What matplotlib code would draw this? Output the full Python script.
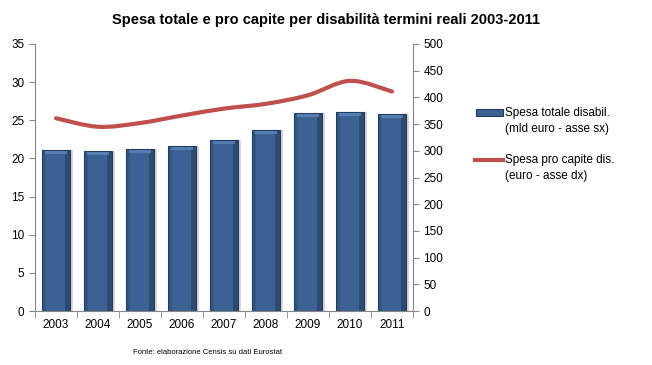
import numpy as np
import matplotlib
matplotlib.use('Agg')
import matplotlib.pyplot as plt
from matplotlib.path import Path
from matplotlib.patches import PathPatch, Rectangle
from matplotlib.lines import Line2D

# Dati
anni = ['2003', '2004', '2005', '2006', '2007', '2008', '2009', '2010', '2011']
spesa_totale = [21.1, 20.95, 21.2, 21.6, 22.4, 23.7, 25.95, 26.1, 25.8]   # mld euro
pro_capite = [361, 345, 352, 366, 379, 388, 404, 431, 411]                  # euro

plt.rcParams['font.family'] = ['Liberation Sans', 'DejaVu Sans']

W, H = 652, 365
fig = plt.figure(figsize=(W / 100, H / 100), dpi=100)
ax = fig.add_axes([35/W, 54/H, 378/W, 267/H])
ax2 = ax.twinx()

x = np.arange(len(anni))
top = np.array(spesa_totale)

# Ombra + barre con effetto smussato
ax.bar(x + 0.07, spesa_totale, width=0.66, color='#7f7f7f', alpha=0.3, zorder=1)
ax.bar(x, spesa_totale, width=0.66, color='#3B6293', edgecolor='#22395A', linewidth=0.8, zorder=2)
ax.bar(x + 0.27, spesa_totale, width=0.12, color='#22395A', alpha=0.55, zorder=3)
ax.bar(x - 0.28, spesa_totale, width=0.08, color='#2C4A73', alpha=0.5, zorder=3)
ax.bar(x, 0.45, bottom=top - 0.55, width=0.52, color='#5F86BA', alpha=0.8, zorder=4)

ax.set_ylim(0, 35)
ax.set_xlim(-0.5, len(anni) - 0.5)
ax.set_yticks(range(0, 36, 5))
ax.set_xticks(x)
ax.set_xticklabels(anni)
ax.set_xticks(np.arange(-0.5, len(anni), 1), minor=True)
ax.tick_params(axis='x', which='major', length=0, labelsize=8.5, pad=6)
ax.tick_params(axis='x', which='minor', length=5, color='#868686')
ax.tick_params(axis='y', length=4, color='#868686', labelsize=8.5)

# Linea smussata (Bezier stile Excel)
xs = np.array(x, dtype=float)
ys = np.array(pro_capite, dtype=float)
verts = [(xs[0], ys[0])]
codes = [Path.MOVETO]
for i in range(len(xs) - 1):
    p0 = (xs[i - 1], ys[i - 1]) if i > 0 else (xs[i], ys[i])
    p1 = (xs[i], ys[i])
    p2 = (xs[i + 1], ys[i + 1])
    p3 = (xs[i + 2], ys[i + 2]) if i + 2 < len(xs) else p2
    c1 = (p1[0] + (p2[0] - p0[0]) / 6, p1[1] + (p2[1] - p0[1]) / 6)
    c2 = (p2[0] - (p3[0] - p1[0]) / 6, p2[1] - (p3[1] - p1[1]) / 6)
    verts += [c1, c2, p2]
    codes += [Path.CURVE4] * 3
ax2.add_patch(PathPatch(Path(verts, codes), fill=False, edgecolor='#C0504D',
                        linewidth=3, capstyle='round', zorder=5))
ax2.set_ylim(0, 500)
ax2.set_yticks(range(0, 501, 50))
ax2.tick_params(axis='y', length=4, color='#868686', labelsize=8.5)

for a in (ax, ax2):
    a.spines['top'].set_visible(False)
    for s in ('left', 'right', 'bottom'):
        a.spines[s].set_color('#868686')
ax.spines['right'].set_visible(False)
ax2.spines['left'].set_visible(False)
ax2.spines['bottom'].set_visible(False)

fig.text(0.5, 0.945, 'Spesa totale e pro capite per disabilità termini reali 2003-2011',
         ha='center', va='center', fontsize=10.5, fontweight='bold')
fig.text(133/W, 1 - 352/H, 'Fonte: elaborazione Censis su dati Eurostat',
         ha='left', va='center', fontsize=5.5)

# Legenda disegnata a mano
fig.add_artist(Rectangle((476/W, 1 - 116/H), 27/W, 7/H, transform=fig.transFigure,
                         facecolor='#3B6293', edgecolor='#22395A', linewidth=0.8))
fig.add_artist(Line2D([475/W, 503/W], [1 - 160/H, 1 - 160/H], transform=fig.transFigure,
                      color='#C0504D', linewidth=3))
leg_testi = [('Spesa totale disabil.', 113), ('(mld euro - asse sx)', 129),
             ('Spesa pro capite dis.', 160), ('(euro - asse dx)', 176)]
for t, yy in leg_testi:
    fig.text(505/W, 1 - yy/H, t, ha='left', va='center', fontsize=8.5)

plt.savefig('out.png', dpi=100)
